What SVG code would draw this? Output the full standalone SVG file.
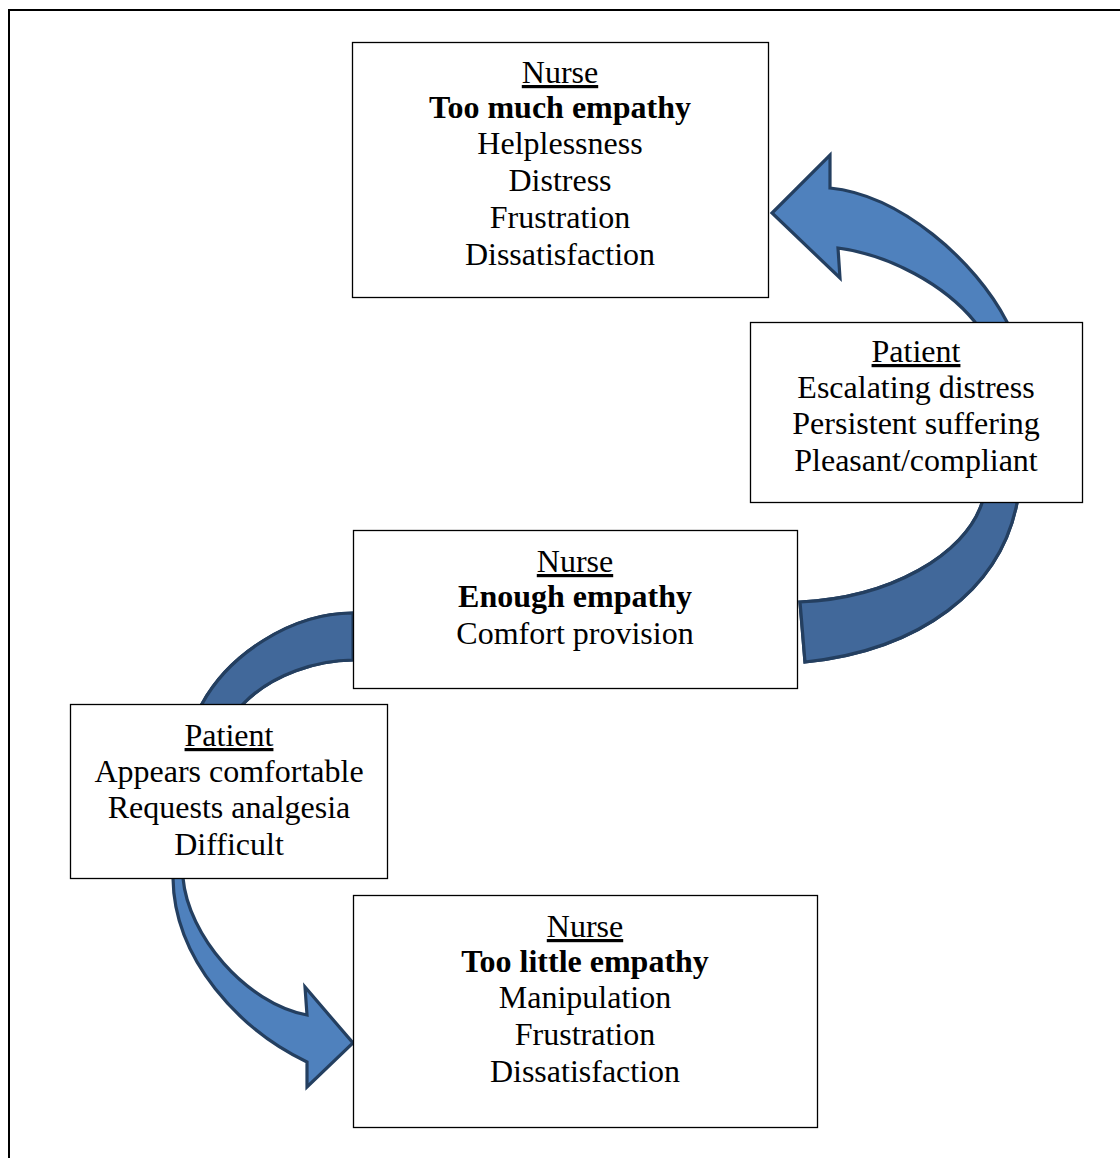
<svg xmlns="http://www.w3.org/2000/svg" width="1120" height="1158" viewBox="0 0 1120 1158">
  <defs>
    <style>
      .box { fill: #ffffff; stroke: #000000; stroke-width: 1.3; }
      .frame { fill: none; stroke: #000000; stroke-width: 2; }
      .arrow-light { fill: #4F81BD; stroke: #243F60; stroke-width: 3.2; stroke-linejoin: miter; }
      .arrow-dark { fill: #41689A; stroke: #243F60; stroke-width: 3.2; stroke-linejoin: miter; }
      text { font-family: "Liberation Serif", "Times New Roman", serif; font-size: 32px; fill: #000000; text-anchor: middle; }
      .head { text-decoration: underline; }
      .bold { font-weight: bold; }
    </style>
    <!-- curved arrow on the right: head points at the top nurse box -->
    <path id="curve-right" d="M830,188 C900,195 975,260 1007,322 C1025,360 1030,450 1017,503 C1000,590 920,650 805,662 L800,602 C890,598 965,555 982,503 C995,440 995,370 975,322 C945,285 890,255 838,248 L840,278 L772,213 L830,155 Z"/>
    <!-- curved arrow on the left: head points at the bottom nurse box -->
    <path id="curve-left" d="M353,613 C290,613 228,656 202,704 C182,730 170,820 173,878 C174,960 240,1030 307,1062 L307,1087 L353,1043 L305,987 L307,1015 C245,1003 188,935 183,878 C180,800 215,735 243,704 C272,674 318,660 353,660 Z"/>
    <clipPath id="clip-right-back"><rect x="0" y="412" width="1120" height="400"/></clipPath>
    <clipPath id="clip-left-back"><rect x="0" y="500" width="1120" height="290"/></clipPath>
  </defs>

  <rect width="1120" height="1158" fill="#ffffff"/>
  <rect class="frame" x="9" y="10" width="1200" height="1200"/>

  <g id="connectors">
    <use href="#curve-right" class="arrow-light"/>
    <use href="#curve-right" class="arrow-dark" clip-path="url(#clip-right-back)"/>
    <use href="#curve-left" class="arrow-light"/>
    <use href="#curve-left" class="arrow-dark" clip-path="url(#clip-left-back)"/>
  </g>

  <g id="nurse-too-much">
    <rect class="box" x="352.5" y="42.5" width="416" height="255"/>
    <text x="560" y="83" class="head">Nurse</text>
    <text x="560" y="118" class="bold">Too much empathy</text>
    <text x="560" y="154">Helplessness</text>
    <text x="560" y="191">Distress</text>
    <text x="560" y="228">Frustration</text>
    <text x="560" y="265">Dissatisfaction</text>
  </g>

  <g id="patient-escalating">
    <rect class="box" x="750.5" y="322.5" width="332" height="180"/>
    <text x="916" y="362" class="head">Patient</text>
    <text x="916" y="398">Escalating distress</text>
    <text x="916" y="434">Persistent suffering</text>
    <text x="916" y="471">Pleasant/compliant</text>
  </g>

  <g id="nurse-enough">
    <rect class="box" x="353.5" y="530.5" width="444" height="158"/>
    <text x="575" y="572" class="head">Nurse</text>
    <text x="575" y="607" class="bold">Enough empathy</text>
    <text x="575" y="644">Comfort provision</text>
  </g>

  <g id="patient-comfortable">
    <rect class="box" x="70.5" y="704.5" width="317" height="174"/>
    <text x="229" y="746" class="head">Patient</text>
    <text x="229" y="782">Appears comfortable</text>
    <text x="229" y="818">Requests analgesia</text>
    <text x="229" y="855">Difficult</text>
  </g>

  <g id="nurse-too-little">
    <rect class="box" x="353.5" y="895.5" width="464" height="232"/>
    <text x="585" y="937" class="head">Nurse</text>
    <text x="585" y="972" class="bold">Too little empathy</text>
    <text x="585" y="1008">Manipulation</text>
    <text x="585" y="1045">Frustration</text>
    <text x="585" y="1082">Dissatisfaction</text>
  </g>
</svg>
